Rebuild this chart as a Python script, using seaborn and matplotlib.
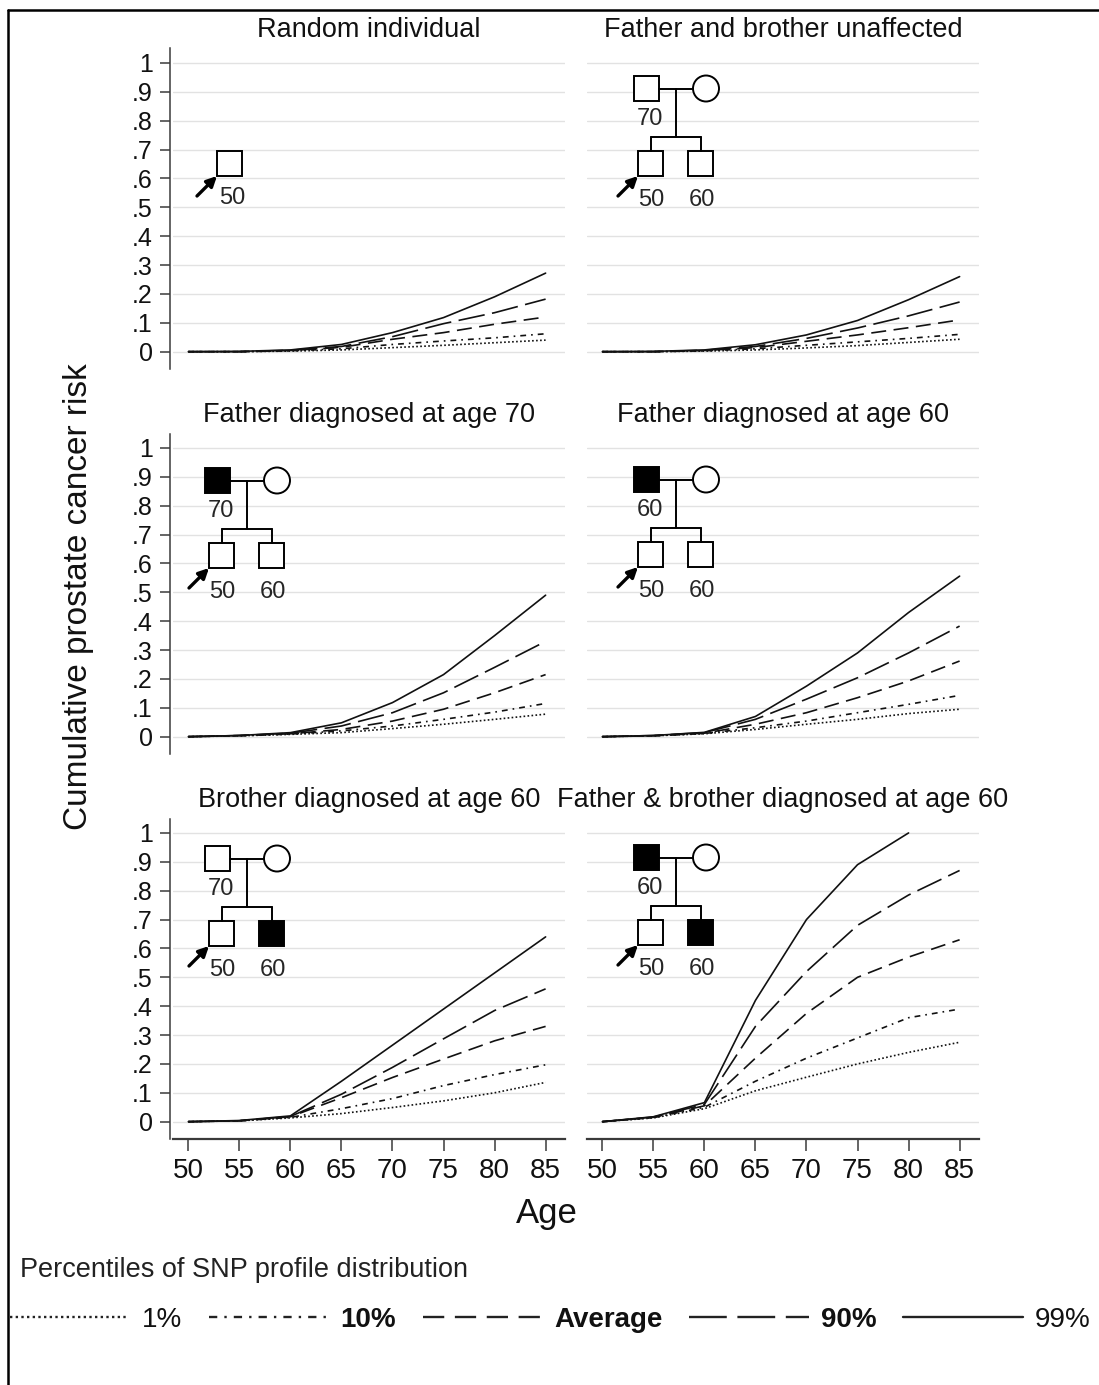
import numpy as np
import pandas as pd
import matplotlib
matplotlib.use("Agg")
import matplotlib.pyplot as plt
import seaborn as sns
from matplotlib.lines import Line2D
from matplotlib.patches import Rectangle, Circle

# ---------------- data ----------------
ages = [50, 55, 60, 65, 70, 75, 80, 85]
percentiles = ["1%", "10%", "Average", "90%", "99%"]
panel_titles = ["Random individual", "Father and brother unaffected",
                "Father diagnosed at age 70", "Father diagnosed at age 60",
                "Brother diagnosed at age 60", "Father & brother diagnosed at age 60"]
y_tick_values = [0, .1, .2, .3, .4, .5, .6, .7, .8, .9, 1]
y_tick_labels = ["0", ".1", ".2", ".3", ".4", ".5", ".6", ".7", ".8", ".9", "1"]
x_tick_values = [50, 55, 60, 65, 70, 75, 80, 85]

# Random individual
rand_p1 = [0, 0, 0.002, 0.006, 0.014, 0.022, 0.031, 0.040]
rand_p10 = [0, 0, 0.003, 0.010, 0.025, 0.037, 0.048, 0.062]
rand_avg = [0, 0, 0.004, 0.015, 0.043, 0.066, 0.095, 0.120]
rand_p90 = [0, 0, 0.005, 0.018, 0.052, 0.097, 0.135, 0.182]
rand_p99 = [0, 0.001, 0.006, 0.025, 0.066, 0.118, 0.190, 0.272]
# Father and brother unaffected
unaff_p1 = [0, 0, 0.002, 0.006, 0.013, 0.021, 0.032, 0.043]
unaff_p10 = [0, 0, 0.003, 0.010, 0.022, 0.034, 0.046, 0.060]
unaff_avg = [0, 0, 0.004, 0.014, 0.036, 0.058, 0.083, 0.110]
unaff_p90 = [0, 0, 0.005, 0.018, 0.046, 0.082, 0.124, 0.172]
unaff_p99 = [0, 0.001, 0.006, 0.024, 0.058, 0.108, 0.180, 0.260]
# Father diagnosed at 70
f70_p1 = [0, 0.003, 0.008, 0.014, 0.028, 0.043, 0.060, 0.078]
f70_p10 = [0, 0.003, 0.009, 0.020, 0.037, 0.060, 0.085, 0.115]
f70_avg = [0, 0.004, 0.010, 0.025, 0.054, 0.095, 0.152, 0.215]
f70_p90 = [0, 0.004, 0.012, 0.037, 0.083, 0.152, 0.240, 0.330]
f70_p99 = [0, 0.004, 0.014, 0.048, 0.118, 0.215, 0.350, 0.490]
# Father diagnosed at 60
f60_p1 = [0, 0.003, 0.010, 0.025, 0.043, 0.060, 0.080, 0.095]
f60_p10 = [0, 0.003, 0.011, 0.031, 0.054, 0.083, 0.112, 0.143]
f60_avg = [0, 0.003, 0.012, 0.043, 0.083, 0.135, 0.193, 0.262]
f60_p90 = [0, 0.004, 0.014, 0.060, 0.130, 0.204, 0.290, 0.383]
f60_p99 = [0, 0.004, 0.015, 0.070, 0.175, 0.290, 0.430, 0.556]
# Brother diagnosed at 60
b60_p1 = [0, 0.003, 0.013, 0.028, 0.049, 0.072, 0.100, 0.136]
b60_p10 = [0, 0.003, 0.015, 0.045, 0.080, 0.125, 0.163, 0.197]
b60_avg = [0, 0.003, 0.017, 0.083, 0.153, 0.217, 0.280, 0.330]
b60_p90 = [0, 0.003, 0.018, 0.095, 0.188, 0.287, 0.385, 0.460]
b60_p99 = [0, 0.004, 0.020, 0.140, 0.265, 0.390, 0.515, 0.640]
# Father & brother diagnosed at 60
fb60_p1 = [0, 0.013, 0.045, 0.107, 0.154, 0.200, 0.240, 0.275]
fb60_p10 = [0, 0.014, 0.050, 0.140, 0.220, 0.290, 0.360, 0.390]
fb60_avg = [0, 0.015, 0.055, 0.220, 0.375, 0.500, 0.570, 0.630]
fb60_p90 = [0, 0.016, 0.060, 0.330, 0.520, 0.680, 0.785, 0.870]
fb60_p99 = [0, 0.017, 0.066, 0.420, 0.700, 0.890, 1.000, np.nan]

panel_series = [
    [rand_p1, rand_p10, rand_avg, rand_p90, rand_p99],
    [unaff_p1, unaff_p10, unaff_avg, unaff_p90, unaff_p99],
    [f70_p1, f70_p10, f70_avg, f70_p90, f70_p99],
    [f60_p1, f60_p10, f60_avg, f60_p90, f60_p99],
    [b60_p1, b60_p10, b60_avg, b60_p90, b60_p99],
    [fb60_p1, fb60_p10, fb60_avg, fb60_p90, fb60_p99],
]

rows = []
for pi, series in enumerate(panel_series):
    for pct, vals in zip(percentiles, series):
        for a, v in zip(ages, vals):
            rows.append({"panel": pi, "pct": pct, "age": a, "risk": v})
df = pd.DataFrame(rows).dropna()

# ---------------- style ----------------
sns.set_style("white")
plt.rcParams["font.family"] = ["Liberation Sans", "DejaVu Sans"]

W, H = 1099, 1385
fig = plt.figure(figsize=(W / 100, H / 100), dpi=100)
fig.patch.set_facecolor("white")

def rect(x, y, w, h):
    return [x / W, 1 - (y + h) / H, w / W, h / H]

col_x = [173, 587]
col_w = 392
row_top = [48.5, 433.5, 818.5]
row_h = 320.5

dash_map = {"1%": (1, 1.4), "10%": (3.5, 3, 1, 3), "Average": (9, 4.5),
            "90%": (16, 4.5), "99%": ""}
line_col = "#111111"
spine_col = "#3a3a3a"

axes = []
for i in range(6):
    r, c = divmod(i, 2)
    ax = fig.add_axes(rect(col_x[c], row_top[r], col_w, row_h))
    axes.append(ax)
    sub = df[df["panel"] == i]
    sns.lineplot(data=sub, x="age", y="risk", style="pct", style_order=percentiles,
                 dashes=dash_map, color=line_col, linewidth=1.2, legend=False,
                 errorbar=None, ax=ax)
    ax.set_xlim(48.5, 86.9)
    ax.set_ylim(-0.06, 1.05)
    ax.set_yticks(y_tick_values)
    ax.set_xticks(x_tick_values)
    ax.grid(axis="y", color="#e2e2e2", linewidth=1.0)
    ax.grid(axis="x", visible=False)
    ax.set_axisbelow(True)
    ax.set_xlabel("")
    ax.set_ylabel("")
    ax.set_title(panel_titles[i], fontsize=19.5, pad=8, color="#111111")
    for s in ["top", "right"]:
        ax.spines[s].set_visible(False)
    if c == 0:
        ax.spines["left"].set_position(("outward", 2.5))
        ax.spines["left"].set_color(spine_col)
        ax.spines["left"].set_linewidth(1.1)
        ax.set_yticklabels(y_tick_labels)
        ax.tick_params(axis="y", length=7, width=1.1, color=spine_col, pad=5,
                       labelsize=18, left=True, labelcolor="#111111")
    else:
        ax.spines["left"].set_visible(False)
        ax.tick_params(axis="y", left=False, labelleft=False)
    if r == 2:
        ax.spines["bottom"].set_color(spine_col)
        ax.spines["bottom"].set_linewidth(1.6)
        ax.tick_params(axis="x", length=8.5, width=1.1, color=spine_col, pad=5,
                       labelsize=20, bottom=True, labelcolor="#111111")
    else:
        ax.spines["bottom"].set_visible(False)
        ax.tick_params(axis="x", bottom=False, labelbottom=False)

# ---------------- pedigrees (overlay in pixel units) ----------------
ov = fig.add_axes([0, 0, 1, 1], zorder=20)
ov.set_xlim(0, W)
ov.set_ylim(H, 0)
ov.axis("off")
plw = 1.4
ped_fs = 17

def arrow(tx, ty):
    ov.annotate("", xy=(tx, ty), xytext=(tx - 20, ty + 20),
                arrowprops=dict(arrowstyle="-|>", lw=2.4, color="black",
                                mutation_scale=15, shrinkA=0, shrinkB=0))

def pedigree(fx, fy, father_aff, brother_aff, father_age):
    s = 25
    ov.add_patch(Rectangle((fx, fy), s, s, fc="black" if father_aff else "white",
                           ec="black", lw=plw))
    ov.add_patch(Circle((fx + 72, fy + 12.5), 13, fc="white", ec="black", lw=plw))
    ov.plot([fx + s, fx + 59], [fy + 12.5] * 2, color="black", lw=plw)
    ov.plot([fx + 42] * 2, [fy + 12.5, fy + 61], color="black", lw=plw)
    ov.plot([fx + 16.5, fx + 66.5], [fy + 61] * 2, color="black", lw=plw)
    ov.plot([fx + 16.5] * 2, [fy + 61, fy + 75], color="black", lw=plw)
    ov.plot([fx + 66.5] * 2, [fy + 61, fy + 75], color="black", lw=plw)
    ov.add_patch(Rectangle((fx + 4, fy + 75), s, s, fc="white", ec="black", lw=plw))
    ov.add_patch(Rectangle((fx + 54, fy + 75), s, s,
                           fc="black" if brother_aff else "white", ec="black", lw=plw))
    ov.text(fx + 16, fy + 43, father_age, ha="center", va="center", fontsize=ped_fs)
    ov.text(fx + 17, fy + 124, "50", ha="center", va="center", fontsize=ped_fs)
    ov.text(fx + 68, fy + 124, "60", ha="center", va="center", fontsize=ped_fs)
    arrow(fx + 4, fy + 100)

# panel 1: single individual
ov.add_patch(Rectangle((217, 151), 25, 25, fc="white", ec="black", lw=plw))
ov.text(232, 198, "50", ha="center", va="center", fontsize=ped_fs)
arrow(217, 176)

pedigree(634, 76, False, False, "70")
pedigree(205, 468, True, False, "70")
pedigree(634, 467, True, False, "60")
pedigree(205, 846, False, True, "70")
pedigree(634, 845, True, True, "60")

# ---------------- labels ----------------
fig.text(79 / W, 1 - 597 / H, "Cumulative prostate cancer risk", rotation=90,
         ha="center", va="center", fontsize=24, color="#111111")
fig.text(547 / W, 1 - 1214 / H, "Age", ha="center", va="center", fontsize=25,
         color="#111111")
fig.text(20 / W, 1 - 1270 / H, "Percentiles of SNP profile distribution",
         ha="left", va="center", fontsize=19.5, color="#222222")

handles = []
for p in percentiles:
    h_ = Line2D([], [], color="#222222", lw=1.7)
    if dash_map[p] != "":
        h_.set_dashes(dash_map[p])
    handles.append(h_)
leg = fig.legend(handles, percentiles, loc="center left",
                 bbox_to_anchor=(10 / W, 1 - 1320 / H), ncol=5, frameon=False,
                 fontsize=20, handlelength=4.3, handletextpad=0.45,
                 columnspacing=0.95, borderpad=0, borderaxespad=0)
for t, p in zip(leg.get_texts(), percentiles):
    if p in ("10%", "Average", "90%"):
        t.set_fontweight("bold")
    t.set_color("#111111")

# frame lines
fig.add_artist(Line2D([8 / W, 8 / W], [0, 1 - 10 / H], transform=fig.transFigure,
                      color="black", lw=1.8))
fig.add_artist(Line2D([8 / W, 1], [1 - 10 / H, 1 - 10 / H], transform=fig.transFigure,
                      color="black", lw=1.8))

fig.savefig("out.png", dpi=100, facecolor="white")
